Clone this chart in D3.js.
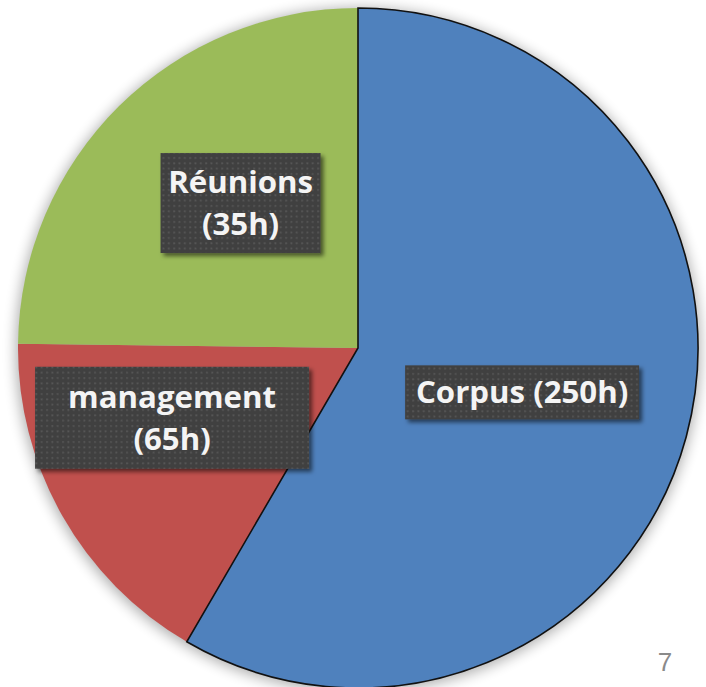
<!DOCTYPE html>
<html>
<head>
<meta charset="utf-8">
<script src="https://cdn.jsdelivr.net/npm/d3@7"></script>
<style>
  html, body { margin: 0; padding: 0; background: #fff; }
  svg { display: block; }
</style>
</head>
<body>
<div id="chart"></div>
<script>
// données (parts des secteurs, en % du disque)
const categories = ["Corpus", "management", "Réunions"];
const sliceShares = [58.4, 16.8, 24.8];
const hourLabels = ["250h", "65h", "35h"];
const pageNumber = "7";

// mise en page
const W = 706, H = 687;
const cx = 358, cy = 348, R = 340;
const colors = ["#4F81BD", "#C0504D", "#9BBB59"];
// lignes des étiquettes + taille des boîtes + petit décalage
const labelLines = [
  [categories[0] + " (" + hourLabels[0] + ")"],
  [categories[1], "(" + hourLabels[1] + ")"],
  [categories[2], "(" + hourLabels[2] + ")"]
];
const boxSizes = [[234, 54], [274, 102], [160, 100]];
const nudges = [[0, 0], [-38, -14], [2, -24]];
const fontSize = 31.2, lineH = 42, capH = 22;

const svg = d3.select("#chart").append("svg")
  .attr("width", W).attr("height", H);

const defs = svg.append("defs");

// ombre douce du disque
const pieShadow = defs.append("filter").attr("id", "pieShadow")
  .attr("x", "-10%").attr("y", "-10%").attr("width", "120%").attr("height", "120%");
pieShadow.append("feGaussianBlur").attr("stdDeviation", 7);

// ombre des boîtes
const boxShadow = defs.append("filter").attr("id", "boxShadow")
  .attr("x", "-10%").attr("y", "-10%").attr("width", "130%").attr("height", "140%");
boxShadow.append("feDropShadow")
  .attr("dx", 3).attr("dy", 3).attr("stdDeviation", 2)
  .attr("flood-color", "#000").attr("flood-opacity", 0.55);

// motif pointillé des boîtes
const pat = defs.append("pattern").attr("id", "dots")
  .attr("patternUnits", "userSpaceOnUse")
  .attr("width", 5.33).attr("height", 5.33);
pat.append("rect").attr("width", 5.33).attr("height", 5.33).attr("fill", "#404040");
pat.append("rect").attr("x", 2).attr("y", 2).attr("width", 1.8).attr("height", 1.8)
  .attr("fill", "#575757");

const g = svg.append("g").attr("transform", `translate(${cx},${cy})`);

g.append("circle")
  .attr("r", R + 2)
  .attr("cy", 2)
  .attr("fill", "#000")
  .attr("opacity", 0.32)
  .attr("filter", "url(#pieShadow)");

const pie = d3.pie().sort(null).value(d => d);
const arcs = pie(sliceShares);
const arc = d3.arc().innerRadius(0).outerRadius(R);
const labelArc = d3.arc().innerRadius(R * 0.5).outerRadius(R * 0.5);

g.selectAll("path.slice")
  .data(arcs)
  .join("path")
    .attr("class", "slice")
    .attr("d", arc)
    .attr("fill", (d, i) => colors[i]);

// contour noir du secteur bleu
g.append("path")
  .attr("d", arc(arcs[0]))
  .attr("fill", "none")
  .attr("stroke", "#111")
  .attr("stroke-width", 1.6)
  .attr("stroke-linejoin", "miter");

// étiquettes
const labels = g.selectAll("g.label")
  .data(arcs)
  .join("g")
    .attr("class", "label")
    .attr("transform", (d, i) => {
      const c = labelArc.centroid(d);
      return `translate(${c[0] + nudges[i][0]},${c[1] + nudges[i][1]})`;
    });

labels.append("rect")
  .attr("x", (d, i) => -boxSizes[i][0] / 2)
  .attr("y", (d, i) => -boxSizes[i][1] / 2)
  .attr("width", (d, i) => boxSizes[i][0])
  .attr("height", (d, i) => boxSizes[i][1])
  .attr("fill", "url(#dots)")
  .attr("filter", "url(#boxShadow)");

labels.each(function (d, i) {
  const lines = labelLines[i];
  const n = lines.length;
  d3.select(this).selectAll("text")
    .data(lines)
    .join("text")
      .attr("x", 0)
      .attr("y", (t, k) => (k - (n - 1) / 2) * lineH + capH / 2)
      .attr("text-anchor", "middle")
      .attr("fill", "#f4f4f4")
      .style("font-family", "'Open Sans', sans-serif")
      .style("font-weight", "bold")
      .style("font-size", fontSize + "px")
      .text(t => t);
});

// numéro de page
svg.append("text")
  .attr("x", 665).attr("y", 671)
  .attr("text-anchor", "middle")
  .attr("fill", "#8a8a8a")
  .style("font-family", "'Liberation Sans', Arial, sans-serif")
  .style("font-size", "26px")
  .text(pageNumber);
</script>
</body>
</html>
